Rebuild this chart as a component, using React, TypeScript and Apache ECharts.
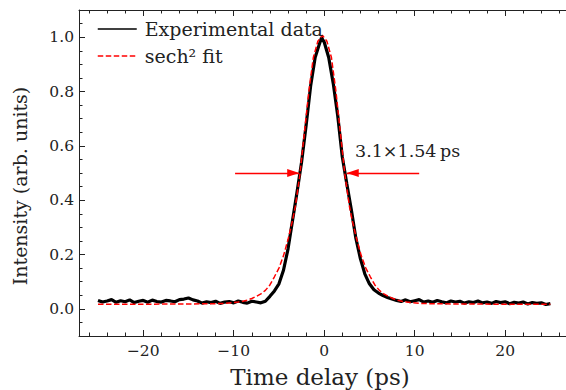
import React, { useEffect, useRef } from "react";
import * as echarts from "echarts";

// Experimental autocorrelation trace (baseline noise band included)
const expX = [
  -25, -24.5, -24, -23.5, -23, -22.5, -22, -21.5, -21, -20.5, -20, -19.5, -19, -18.5, -18, -17.5,
  -17, -16.5, -16, -15.5, -15, -14.5, -14, -13.5, -13, -12.5, -12, -11.5, -11, -10.5, -10, -9.5,
  -9, -8.5, -8, -7.5, -7, -6.5, -6, -5.5, -5, -4.5, -4, -3.5, -3, -2.5, -2, -1.5, -1, -0.5, -0.3,
  0, 0.5, 1, 1.5, 2, 2.5, 3, 3.5, 4, 4.5, 5, 5.5, 6, 6.5, 7, 7.5, 8, 8.5, 9, 9.5, 10, 10.5, 11,
  11.5, 12, 12.5, 13, 13.5, 14, 14.5, 15, 15.5, 16, 16.5, 17, 17.5, 18, 18.5, 19, 19.5, 20, 20.5,
  21, 21.5, 22, 22.5, 23, 23.5, 24, 24.5, 25,
];
const expY = [
  0.031, 0.025, 0.029, 0.034, 0.024, 0.03, 0.026, 0.033, 0.023, 0.028, 0.031, 0.024, 0.032, 0.027, 0.025, 0.031,
  0.029, 0.026, 0.034, 0.036, 0.04, 0.033, 0.029, 0.021, 0.026, 0.023, 0.028, 0.02, 0.025, 0.027, 0.022, 0.029,
  0.024, 0.021, 0.028, 0.025, 0.022, 0.028, 0.046, 0.066, 0.092, 0.142, 0.22, 0.325, 0.43, 0.54, 0.675, 0.82, 0.925, 0.978, 0.998,
  0.982, 0.925, 0.83, 0.71, 0.56, 0.46, 0.365, 0.26, 0.185, 0.128, 0.092, 0.07, 0.058, 0.049, 0.042, 0.036, 0.031, 0.027, 0.033, 0.026, 0.03, 0.034, 0.025,
  0.029, 0.024, 0.031, 0.026, 0.022, 0.029, 0.025, 0.028, 0.021, 0.026, 0.023, 0.029, 0.022, 0.025, 0.02, 0.027, 0.023, 0.026, 0.019,
  0.024, 0.021, 0.025, 0.018, 0.023, 0.02, 0.022, 0.016, 0.019,
];

// sech^2 fit curve
const fitX = [
  -25, -20, -15, -12, -11, -10, -9.5, -9, -8.5, -8, -7.5, -7, -6.5, -6, -5.5, -5, -4.5, -4, -3.5,
  -3.2, -2.7, -2.2, -1.7, -1.2, -0.7, -0.2, 0.3, 0.8, 1.3, 1.8, 2.3, 2.8, 3.1, 3.6, 4.1, 4.6, 5.1,
  5.6, 6.1, 6.6, 7.1, 7.6, 8.1, 8.6, 9.1, 9.6, 10.6, 11.6, 14.6, 20, 25,
];
const fitY = [
  0.017, 0.017, 0.018, 0.019, 0.02, 0.023, 0.025, 0.028, 0.032, 0.038, 0.046, 0.055, 0.068, 0.088, 0.118, 0.15, 0.195, 0.255, 0.325,
  0.375, 0.49, 0.645, 0.8, 0.925, 0.985, 1.007, 0.985, 0.925, 0.8, 0.645, 0.49, 0.375, 0.325, 0.255, 0.195, 0.15, 0.118,
  0.088, 0.068, 0.055, 0.046, 0.038, 0.032, 0.028, 0.025, 0.023, 0.02, 0.019, 0.018, 0.017, 0.017,
];

const seriesNames = ["Experimental data", "sech\u00b2 fit"];
const xMajorTicks = [-20, -10, 0, 10, 20];
const xMinorTicks = [-26, -24, -22, -18, -16, -14, -12, -8, -6, -4, -2, 2, 4, 6, 8, 12, 14, 16, 18, 22, 24, 26];
const yMajorTicks = [0, 0.2, 0.4, 0.6, 0.8, 1.0];
const yMinorTicks = [-0.05, 0.05, 0.1, 0.15, 0.25, 0.3, 0.35, 0.45, 0.5, 0.55, 0.65, 0.7, 0.75, 0.85, 0.9, 0.95, 1.05];
const xRange = [-27.1, 27.5];
const yRange = [-0.1, 1.1];

// FWHM arrows (data coordinates): tail x, tip x, head centre x
const arrowLevel = 0.5;
const leftArrow = { tail: -9.85, tip: -2.77, head: -3.43 };
const rightArrow = { tail: 10.5, tip: 2.5, head: 3.16 };
const annotationText = "3.1\u00d71.54\u2009ps";
const xTitle = "Time delay (ps)";
const yTitle = "Intensity (arb. units)";

const FONT = "'DejaVu Serif', 'Liberation Serif', serif";
const INK = "#222";

export default function App() {
  const ref = useRef<HTMLDivElement>(null);
  useEffect(() => {
    if (!ref.current) return;
    const chart = echarts.init(ref.current, undefined, { renderer: "svg" });
    const fmtX = (v: number) => (v < 0 ? "\u2212" + Math.abs(v) : String(v));
    const baseX = { type: "value", min: xRange[0], max: xRange[1], splitLine: { show: false } };
    const baseY = { type: "value", min: yRange[0], max: yRange[1], splitLine: { show: false } };
    const tickStyle = { color: INK, width: 1 };
    chart.setOption({
      animation: false,
      backgroundColor: "#fff",
      grid: { left: 79, top: 10, right: -7, bottom: 54, containLabel: false, outerBoundsMode: "none" },
      legend: {
        orient: "vertical",
        left: 92,
        top: 14,
        itemWidth: 39,
        itemHeight: 14,
        itemGap: 7,
        lineStyle: { width: 1.5 },
        itemStyle: { color: "rgba(0,0,0,0)", borderColor: "rgba(0,0,0,0)", borderWidth: 0, opacity: 0 },
        textStyle: { fontFamily: FONT, fontSize: 19, color: INK, lineHeight: 20, padding: [0, 0, 0, 3] },
        data: seriesNames,
      },
      xAxis: [
        {
          ...baseX,
          position: "bottom",
          axisLine: { show: true, onZero: false, lineStyle: { color: INK, width: 1 } },
          axisTick: { show: true, inside: true, length: 6, customValues: xMajorTicks, lineStyle: tickStyle },
          axisLabel: {
            show: true,
            customValues: xMajorTicks,
            formatter: fmtX,
            margin: 7,
            fontFamily: FONT,
            fontSize: 15.5,
            color: INK,
          },
        },
        {
          ...baseX,
          position: "bottom",
          axisLine: { show: false, onZero: false },
          axisTick: { show: true, inside: true, length: 3.5, customValues: xMinorTicks, lineStyle: tickStyle },
          axisLabel: { show: false },
        },
        {
          ...baseX,
          position: "top",
          axisLine: { show: true, onZero: false, lineStyle: { color: INK, width: 1 } },
          axisTick: { show: true, inside: true, length: 6, customValues: xMajorTicks, lineStyle: tickStyle },
          axisLabel: { show: false },
        },
        {
          ...baseX,
          position: "top",
          axisLine: { show: false, onZero: false },
          axisTick: { show: true, inside: true, length: 3.5, customValues: xMinorTicks, lineStyle: tickStyle },
          axisLabel: { show: false },
        },
      ],
      yAxis: [
        {
          ...baseY,
          position: "left",
          axisLine: { show: true, onZero: false, lineStyle: { color: INK, width: 1 } },
          axisTick: { show: true, inside: true, length: 6, customValues: yMajorTicks, lineStyle: tickStyle },
          axisLabel: {
            show: true,
            customValues: yMajorTicks,
            formatter: (v: number) => v.toFixed(1),
            margin: 5,
            fontFamily: FONT,
            fontSize: 15.5,
            color: INK,
          },
        },
        {
          ...baseY,
          position: "left",
          axisLine: { show: false, onZero: false },
          axisTick: { show: true, inside: true, length: 3.5, customValues: yMinorTicks, lineStyle: tickStyle },
          axisLabel: { show: false },
        },
      ],
      series: [
        {
          name: seriesNames[0],
          type: "line",
          xAxisIndex: 0,
          yAxisIndex: 0,
          data: expX.map((x, i) => [x, expY[i]]),
          symbol: "none",
          color: "#000",
          lineStyle: { color: "#000", width: 3.2 },
          z: 2,
        },
        {
          name: seriesNames[1],
          type: "line",
          xAxisIndex: 0,
          yAxisIndex: 0,
          data: fitX.map((x, i) => [x, fitY[i]]),
          symbol: "none",
          color: "#ff0000",
          lineStyle: { color: "#ff0000", width: 1.5, type: [5.5, 2.5] },
          z: 3,
          markLine: {
            silent: true,
            symbol: ["none", "none"],
            label: { show: false },
            lineStyle: { color: "#ff0000", width: 1.3, type: "solid" },
            data: [
              [{ coord: [leftArrow.tail, arrowLevel] }, { coord: [leftArrow.tip, arrowLevel] }],
              [{ coord: [rightArrow.tail, arrowLevel] }, { coord: [rightArrow.tip, arrowLevel] }],
            ],
          },
          markPoint: {
            silent: true,
            symbol: "triangle",
            symbolSize: [8, 12],
            label: { show: false },
            itemStyle: { color: "#ff0000" },
            data: [
              { coord: [leftArrow.head, arrowLevel], symbolRotate: -90 },
              { coord: [rightArrow.head, arrowLevel], symbolRotate: 90 },
            ],
          },
        },
      ],
      graphic: [
        {
          type: "text",
          x: 355,
          y: 151,
          style: { text: annotationText, font: `17.5px ${FONT}`, fill: INK, align: "left", verticalAlign: "middle" },
        },
        {
          type: "text",
          x: 320,
          y: 377,
          style: { text: xTitle, font: `23px ${FONT}`, fill: INK, align: "center", verticalAlign: "middle" },
        },
        {
          type: "text",
          x: 20,
          y: 186,
          rotation: Math.PI / 2,
          style: { text: yTitle, font: `19px ${FONT}`, fill: INK, align: "center", verticalAlign: "middle" },
        },
      ],
    });
    return () => chart.dispose();
  }, []);
  return (
    <div
      ref={ref}
      style={{ position: "absolute", left: 0, top: 0, width: 566, height: 390, background: "#fff" }}
    />
  );
}
